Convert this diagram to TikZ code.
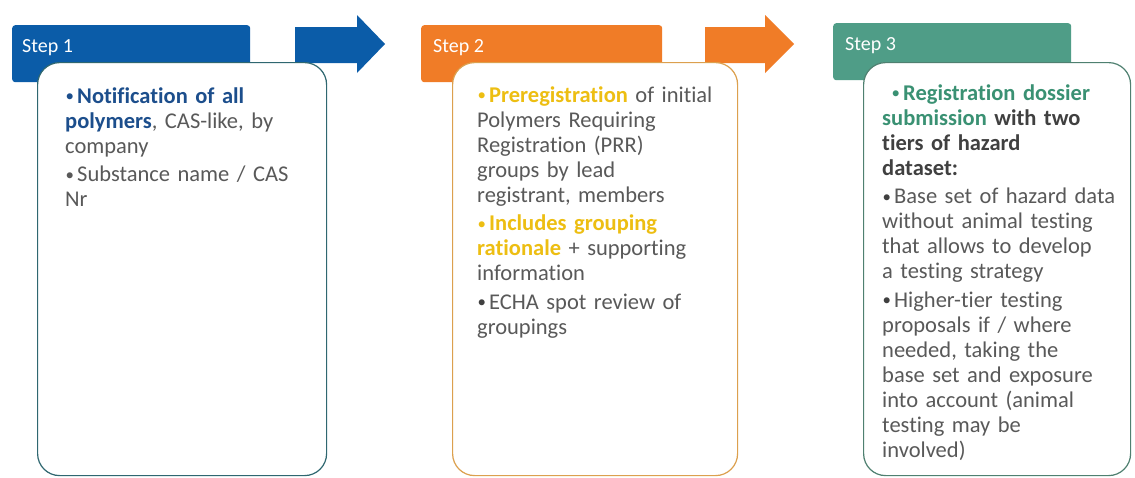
\documentclass[tikz,border=0pt]{standalone}
\usepackage{fontspec}
\usepackage{graphicx}
\setmainfont{Carlito}[Ligatures=NoCommon]
\usetikzlibrary{positioning}

\definecolor{stepblue}{HTML}{0B5CA8}
\definecolor{steporange}{HTML}{F07C27}
\definecolor{stepgreen}{HTML}{4F9D87}
\definecolor{boxblue}{HTML}{2F6770}
\definecolor{boxorange}{HTML}{DCA04E}
\definecolor{boxgreen}{HTML}{4F8070}
\definecolor{txtblue}{HTML}{1C4E8C}
\definecolor{txtyellow}{HTML}{EDBE12}
\definecolor{txtgreen}{HTML}{3A9173}
\definecolor{txtgrey}{HTML}{595959}
\definecolor{txtdark}{HTML}{404040}

% bullet item: [extra indent]{bullet colour}{text}
\newcommand{\bitem}[3][0pt]{\hangindent=\dimexpr#1+12pt\relax\hangafter=1%
  \hskip#1\makebox[12pt][l]{\hspace{0.5pt}\raisebox{1.5pt}{\color{#2}\scalebox{0.75}{\textbullet}}}#3}

\tikzset{
  header/.style={fill=#1, rounded corners=3pt, anchor=north west,
    minimum width=238pt, minimum height=57pt, inner sep=0pt},
  steplabel/.style={text=white, anchor=base west, inner sep=0pt,
    font=\fontsize{20}{24}\selectfont},
  panel/.style={draw=#1, line width=1.2pt, fill=white, rounded corners=22pt,
    anchor=north west, minimum height=413pt, inner sep=0pt},
  bullets/.style={anchor=base west, inner sep=0pt, align=left, text=txtgrey,
    font=\fontsize{22.5}{25}\selectfont\setlength{\parskip}{3.5pt}},
}

\begin{document}
\begin{tikzpicture}[x=1pt, y=-1pt]
\useasboundingbox[fill=white] (0,0) rectangle (1135,477);

% arrows between the steps
\fill[stepblue] (295,27) -- (357,27) -- (357,15) -- (385,44) -- (357,73)
  -- (357,63) -- (295,63) -- cycle;
\fill[steporange] (705,27) -- (765,27) -- (765,15) -- (794,44) -- (765,73)
  -- (765,63) -- (705,63) -- cycle;

% Step 1
\node[header=stepblue] (head1) at (12,25) {};
\node[steplabel] (lab1) at (22,52) {Step 1};
\node[panel=boxblue, minimum width=289pt] (box1) at (37,62) {};
\node[bullets, text width=255pt] (txt1) at (65,103) {%
  \bitem{txtblue}{\textbf{\color{txtblue}Notification of all}\\
    \textbf{\color{txtblue}polymers}, CAS-like, by\\ company}\par
  \bitem{txtgrey}{Substance name / CAS\\ Nr}};

% Step 2
\node[header=steporange, minimum width=241pt] (head2) at (421,25) {};
\node[steplabel] (lab2) at (433,52) {Step 2};
\node[panel=boxorange, minimum width=285pt] (box2) at (452,62) {};
\node[bullets, text width=255pt] (txt2) at (477,102) {%
  \bitem{txtyellow}{\textbf{\color{txtyellow}Preregistration} of initial\\
    Polymers Requiring\\ Registration (PRR)\\ groups by lead\\
    registrant, members}\par
  \bitem{txtyellow}{\textbf{\color{txtyellow}Includes grouping}\\
    \textbf{\color{txtyellow}rationale} + supporting\\ information}\par
  \bitem{txtdark}{ECHA spot review of\\ groupings}};

% Step 3
\node[header=stepgreen, minimum height=57pt] (head3) at (833,23) {};
\node[steplabel] (lab3) at (845,50) {Step 3};
\node[panel=boxgreen, minimum width=267pt] (box3) at (863,62) {};
\node[bullets, text width=240pt] (txt3) at (882,100) {%
  \bitem[9pt]{txtgreen}{\textbf{\color{txtgreen}Registration dossier}\\
    \textbf{\color{txtgreen}submission} \textbf{\color{txtdark}with two}\\
    \textbf{\color{txtdark}tiers of hazard}\\ \textbf{\color{txtdark}dataset:}}\par
  \bitem{txtdark}{Base set of hazard data\\ without animal testing\\
    that allows to develop\\ a testing strategy}\par
  \bitem{txtdark}{Higher-tier testing\\ proposals if / where\\
    needed, taking the\\ base set and exposure\\ into account (animal\\
    testing may be\\ involved)}};
\end{tikzpicture}
\end{document}
